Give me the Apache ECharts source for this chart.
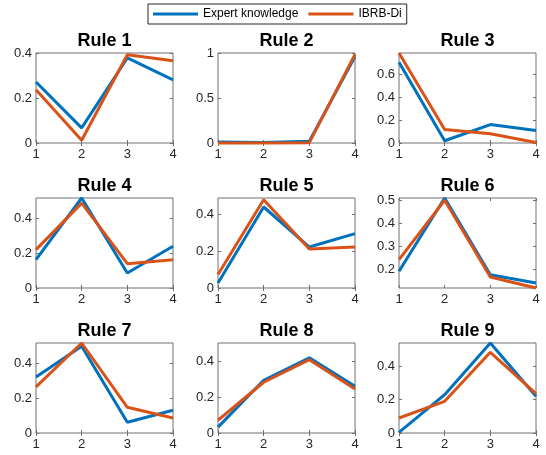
<!DOCTYPE html>
<html><head><meta charset="utf-8">
<script src="https://cdn.jsdelivr.net/npm/echarts@6/dist/echarts.min.js"></script>
<style>html,body{margin:0;padding:0;background:#fff}#c{width:546px;height:455px}</style>
</head><body><div id="c"></div>
<script>
const xValues = [1, 2, 3, 4];
const seriesNames = ['Expert knowledge', 'IBRB-Di'];
const ruleTitles = ['Rule 1', 'Rule 2', 'Rule 3', 'Rule 4', 'Rule 5', 'Rule 6', 'Rule 7', 'Rule 8', 'Rule 9'];
const expertKnowledge = [
  [0.271, 0.067, 0.378, 0.281],
  [0.012, 0.006, 0.02, 0.96],
  [0.708, 0.02, 0.162, 0.109],
  [0.162, 0.514, 0.086, 0.238],
  [0.027, 0.441, 0.223, 0.296],
  [0.19, 0.51, 0.175, 0.139],
  [0.32, 0.495, 0.061, 0.13],
  [0.033, 0.294, 0.419, 0.26],
  [0.004, 0.23, 0.54, 0.22]
];
const ibrbDi = [
  [0.237, 0.012, 0.392, 0.366],
  [0, 0, 0.004, 0.985],
  [0.79, 0.118, 0.082, 0.005],
  [0.219, 0.485, 0.139, 0.162],
  [0.073, 0.48, 0.212, 0.223],
  [0.241, 0.5, 0.165, 0.117],
  [0.263, 0.514, 0.147, 0.086],
  [0.071, 0.283, 0.409, 0.246],
  [0.09, 0.19, 0.484, 0.236]
];
const yMin = [0, 0, 0, 0, 0, 0.117, 0, 0, 0];
const yMax = [0.4, 1, 0.79, 0.514, 0.49, 0.51, 0.514, 0.502, 0.54];
const yTickLabels = [
  [0, 0.2, 0.4], [0, 0.5, 1], [0, 0.2, 0.4, 0.6],
  [0, 0.2, 0.4], [0, 0.2, 0.4], [0.2, 0.3, 0.4, 0.5],
  [0, 0.2, 0.4], [0, 0.2, 0.4], [0, 0.2, 0.4]
];

const colors = ['#0072BD', '#D95319'];
const FONT = "'Liberation Sans', Arial, Helvetica, sans-serif";
const colLeft = [36, 218, 399];
const rowTop = [53, 198, 343];
const W = 137, H = 90;
const axisColor = '#707070';
const labelColor = '#262626';

const grids = [], xAxes = [], yAxes = [], series = [], titles = [];
for (let i = 0; i < 9; i++) {
  const r = Math.floor(i / 3), c = i % 3;
  grids.push({left: colLeft[c], top: rowTop[r], width: W, height: H, show: true,
    borderColor: axisColor, borderWidth: 1, backgroundColor: '#fff'});
  titles.push({text: ruleTitles[i], left: colLeft[c] + W / 2, top: rowTop[r] - 21, textAlign: 'center', padding: 0,
    textStyle: {fontFamily: FONT, fontSize: 18, fontWeight: 'bold', color: '#000'}});
  const tick = {show: true, inside: true, length: 3, lineStyle: {color: axisColor, width: 1}};
  xAxes.push({gridIndex: i, type: 'value', min: 1, max: 4, interval: 1, position: 'bottom',
    axisLine: {show: false}, axisTick: tick, splitLine: {show: false},
    axisLabel: {fontFamily: FONT, fontSize: 13, color: labelColor, margin: 5}});
  xAxes.push({gridIndex: i, type: 'value', min: 1, max: 4, interval: 1, position: 'top',
    axisLine: {show: false}, axisTick: tick, splitLine: {show: false}, axisLabel: {show: false}});
  yAxes.push({gridIndex: i, type: 'value', min: yMin[i], max: yMax[i], position: 'left',
    axisLine: {show: false}, splitLine: {show: false},
    axisTick: Object.assign({customValues: yTickLabels[i]}, tick),
    axisLabel: {customValues: yTickLabels[i], fontFamily: FONT, fontSize: 13, color: labelColor, margin: 4}});
  yAxes.push({gridIndex: i, type: 'value', min: yMin[i], max: yMax[i], position: 'right',
    axisLine: {show: false}, splitLine: {show: false},
    axisTick: Object.assign({customValues: yTickLabels[i]}, tick),
    axisLabel: {show: false, customValues: yTickLabels[i]}});
  [expertKnowledge, ibrbDi].forEach((arr, s) => {
    series.push({type: 'line', name: seriesNames[s], xAxisIndex: 2 * i, yAxisIndex: 2 * i,
      data: xValues.map((x, k) => [x, arr[i][k]]), symbol: 'none', clip: false,
      lineStyle: {width: 3, color: colors[s]}, itemStyle: {color: colors[s]}, z: 2 + s});
  });
}

const chart = echarts.init(document.getElementById('c'), null, {renderer: 'canvas'});
chart.setOption({
  animation: false,
  backgroundColor: '#fff',
  title: titles,
  legend: {data: seriesNames, left: 148, top: 4, orient: 'horizontal', icon: 'rect',
    itemWidth: 45, itemHeight: 3, itemGap: 10, padding: [4, 5, 4, 5],
    borderColor: '#262626', borderWidth: 1, backgroundColor: '#fff',
    textStyle: {fontFamily: FONT, fontSize: 12, color: '#000', padding: [0, 0, 0, 0]}},
  grid: grids,
  xAxis: xAxes,
  yAxis: yAxes,
  series: series
});
</script></body></html>
